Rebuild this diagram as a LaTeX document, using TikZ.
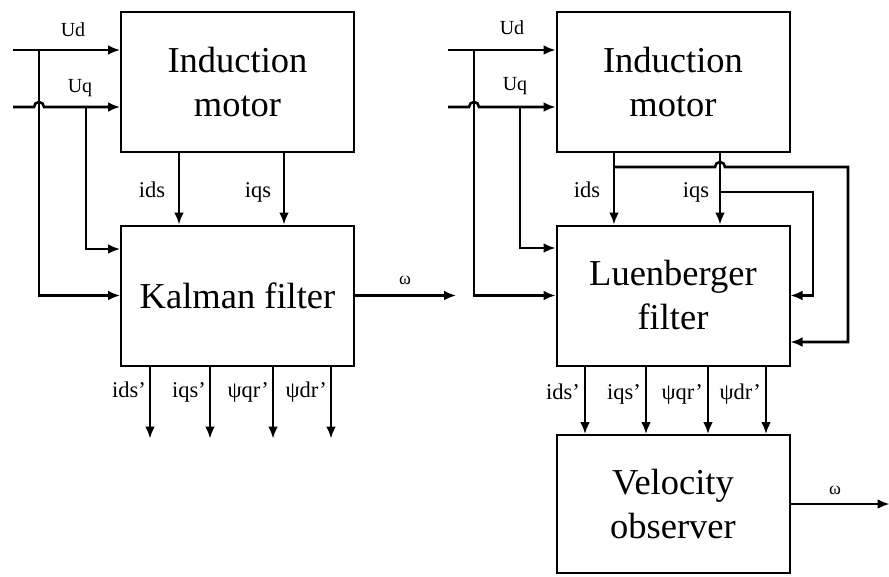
\documentclass[tikz,border=0pt]{standalone}
\usepackage{fontspec}
\setmainfont{Liberation Serif}
\usetikzlibrary{arrows.meta}
\begin{document}
\begin{tikzpicture}[x=1pt,y=-1pt,
  box/.style={draw,line width=2pt,minimum width=233pt,minimum height=140pt,inner sep=0pt,align=center,font=\fontsize{36.5}{44}\selectfont},
  wire/.style={line width=2.6pt},
  arr/.style={wire,-{Latex[length=12pt,width=10pt]}},
  lbl/.style={font=\fontsize{22.5}{24}\selectfont,inner sep=0pt},
  sml/.style={font=\fontsize{20}{22}\selectfont,inner sep=0pt},
  om/.style={font=\fontsize{18}{20}\selectfont,inner sep=0pt}]
\useasboundingbox (0,0) rectangle (889,576);

% boxes
\node[box] (im1) at (237.5,82) {Induction\\motor};
\node[box] (kf) at (237.5,295.5) {Kalman filter};
\node[box] (im2) at (673,82) {Induction\\motor};
\node[box] (lf) at (673,295.5) {Luenberger\\filter};
\node[box,minimum height=138pt] (vo) at (673,504) {Velocity\\observer};

% column / row helpers
\coordinate (ud1) at (13,50);
\coordinate (uq1) at (13,107);
\coordinate (ud2) at (448,50);
\coordinate (uq2) at (448,107);
\coordinate (ja) at (39,50);
\coordinate (jb) at (86,107);
\coordinate (jc) at (474,50);
\coordinate (jd) at (520,107);
\coordinate (ca) at (179,0);
\coordinate (cb) at (284,0);
\coordinate (cc) at (614,0);
\coordinate (cd) at (720,0);
\coordinate (o1) at (150,0);
\coordinate (o2) at (210,0);
\coordinate (o3) at (273,0);
\coordinate (o4) at (331,0);
\coordinate (p1) at (585,0);
\coordinate (p2) at (646,0);
\coordinate (p3) at (708,0);
\coordinate (p4) at (766,0);
\coordinate (f1) at (614,167);
\coordinate (f1r) at (848,167);
\coordinate (f2) at (720,192);
\coordinate (f2r) at (813,192);

% left diagram inputs
\draw[arr] (ud1) -- (im1.west |- ud1);
\draw[arr] (uq1) -- (34,107) arc[start angle=180,end angle=360,radius=5] -- (im1.west |- uq1);
\draw[arr] (ja) |- (kf.west);
\draw[arr] (jb) |- ([yshift=46.5pt]kf.west);
\node[sml] at (73,30) {Ud};
\node[sml] at (80,88) {Uq};

% left motor -> kalman
\draw[arr] (im1.south -| ca) -- (kf.north -| ca);
\draw[arr] (im1.south -| cb) -- (kf.north -| cb);
\node[lbl] at (152,190) {ids};
\node[lbl] at (258,192) {iqs};

% kalman outputs
\draw[arr] (kf.east) -- ++(101,0) coordinate (kout);
\node[om] at (405,280) {ω};
\foreach \c/\t in {o1/ids’,o2/iqs’,o3/ψqr’,o4/ψdr’}{
  \draw[arr] (kf.south -| \c) -- ++(0,72);
  \node[lbl,anchor=base east] at ([xshift=-4pt,yshift=-31pt]kf.south -| \c) {\t};
}

% right diagram inputs
\draw[arr] (ud2) -- (im2.west |- ud2);
\draw[arr] (uq2) -- (469,107) arc[start angle=180,end angle=360,radius=5] -- (im2.west |- uq2);
\draw[arr] (jc) |- (lf.west);
\draw[arr] (jd) |- ([yshift=47.5pt]lf.west);
\node[sml] at (512,28) {Ud};
\node[sml] at (515,86) {Uq};

% right motor -> luenberger
\draw[arr] (im2.south -| cc) -- (lf.north -| cc);
\draw[arr] (im2.south -| cd) -- (lf.north -| cd);
\node[lbl] at (587,190) {ids};
\node[lbl] at (696,192) {iqs};

% feedback loops
\draw[arr] (f1) -- (715,167) arc[start angle=180,end angle=360,radius=5] -- (f1r) |- ([yshift=-46.5pt]lf.east);
\draw[arr] (f2) -- (f2r) |- (lf.east);

% luenberger -> velocity observer
\foreach \c/\t in {p1/ids’,p2/iqs’,p3/ψqr’,p4/ψdr’}{
  \draw[arr] (lf.south -| \c) -- (vo.north -| \c);
  \node[lbl,anchor=base east] at ([xshift=-5pt,yshift=-33pt]lf.south -| \c) {\t};
}

% velocity output
\draw[arr] (vo.east) -- ++(99,0);
\node[om] at (835,490) {ω};
\end{tikzpicture}
\end{document}
